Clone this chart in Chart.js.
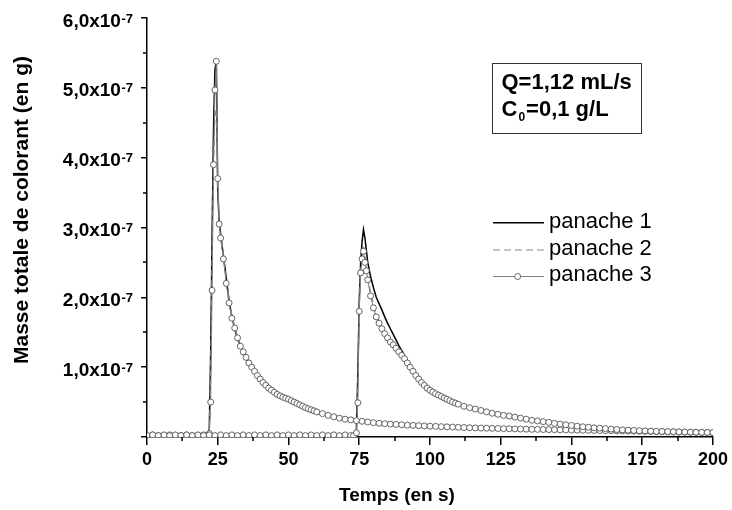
<!DOCTYPE html>
<html>
<head>
<meta charset="utf-8">
<script src="https://cdn.jsdelivr.net/npm/chart.js@4/dist/chart.umd.min.js"></script>
<style>
body{margin:0;background:#fff}
#wrap{position:relative;width:732px;height:510px}
#box{position:absolute;left:492px;top:63px;width:150px;height:71px;box-sizing:border-box;border:1.5px solid #333;font:bold 22px Arial,"Liberation Sans",sans-serif;color:#000}
#box div{position:absolute;left:8.5px;white-space:nowrap;line-height:22px}
#box sub{font-size:12px;position:relative;top:5px;vertical-align:baseline;margin:0 1px}
.leg{position:absolute;left:549px;font:22px Arial,"Liberation Sans",sans-serif;line-height:22px;color:#000;white-space:nowrap}
#legsvg{position:absolute;left:490px;top:210px}
</style>
</head>
<body>
<div id="wrap">
  <canvas id="graphe" width="732" height="510"></canvas>
  <div id="box">
    <div style="top:7px">Q=1,12 mL/s</div>
    <div style="top:33.5px">C<sub>0</sub>=0,1 g/L</div>
  </div>
  <svg id="legsvg" width="60" height="75">
    <line x1="3" y1="12.7" x2="54" y2="12.7" stroke="#000" stroke-width="1.5"/>
    <line x1="3" y1="40" x2="54" y2="40" stroke="#888" stroke-width="1.2" stroke-dasharray="7 4"/>
    <line x1="3" y1="66.5" x2="54" y2="66.5" stroke="#808080" stroke-width="1"/>
    <circle cx="27.7" cy="66.5" r="3" fill="#fff" stroke="#555" stroke-width="0.9"/>
  </svg>
  <div class="leg" style="top:210.4px">panache 1</div>
  <div class="leg" style="top:237.1px">panache 2</div>
  <div class="leg" style="top:263.1px">panache 3</div>
</div>
<script>
// temps (s) - premiere injection
const tempsA = [0,2,4,6,8,10,12,14,16,18,20,
  21,22,22.5,23,23.5,24,24.5,25,25.5,26,
  27,28,29,30,31,32,33,34,35,36,37,38,39,40,41,42,43,44,45,46,47,48,49,50,51,52,53,54,55,56,57,58,59,60,
  62,64,66,68,70,72,74,76,78,80,82,84,86,88,90,92,94,96,
  98,100,102,104,106,108,110,112,114,116,118,120,122,124,126,128,130,132,134,136,138,140,142,144,146,148,150,
  152,154,156,158,160,162,164,166,168,170,172,174,176,178,180,182,184,186,188,190,192,194,196,198,200];
// temps (s) - deuxieme injection
const tempsB = [0,2,4,6,8,10,12,14,16,18,20,22,24,26,28,30,32,34,36,38,40,42,44,46,48,50,52,54,56,58,60,62,64,66,68,70,72,
  73,74,74.5,75,75.5,76,76.5,77,77.5,
  78,79,80,81,82,83,84,85,86,87,88,89,90,91,92,93,94,95,96,97,98,99,100,101,102,103,104,105,106,107,108,109,110,
  112,114,116,118,120,122,124,126,128,130,132,134,136,138,140,142,144,146,148,150,152,154,156,158,160,
  162,164,166,168,170,172,174,176,178,180,182,184,186,188,190,192,194,196,198,200];

// masses en unites de 1e-7 g
const panache1A = [0.01,0.02,0.01,0.02,0.01,0.02,0.01,0.02,0.01,0.02,0.01,
  0.01,0.1,1.2,2.9,4.4,5.25,5.4,3.5,3.1,2.9,
  2.6,2.28,1.95,1.72,1.55,1.4,1.32,1.2,1.12,1.07,1.0,0.92,0.9,0.84,0.77,0.72,0.71,0.69,0.63,0.6,
  0.6,0.58,0.54,0.52,0.53,0.51,0.47,0.44,0.45,0.43,0.39,0.37,0.38,0.37,
  0.32,0.31,0.28,0.28,0.25,0.25,0.23,0.23,
  0.21,0.21,0.19,0.195,0.18,0.185,0.17,0.175,0.16,0.165,
  0.155,0.158,0.148,0.152,0.142,0.146,0.136,0.14,0.13,0.133,
  0.125,0.13,0.12,0.125,0.116,0.12,0.112,0.116,0.108,0.112,
  0.105,0.108,0.102,0.106,0.099,0.103,0.097,0.1,0.095,0.097,
  0.092,0.095,0.089,0.092,0.086,0.089,0.083,0.086,0.081,0.083,
  0.078,0.08,0.075,0.077,0.072,0.074,0.07,0.071,0.067,0.069,
  0.064,0.066];
const panache2A = [0.02,0.02,0.02,0.02,0.02,0.02,0.02,0.02,0.02,0.02,0.02,
  0.02,0.08,0.9,2.6,3.9,4.6,4.7,3.6,3.2,2.95,
  2.6,2.25,1.98,1.74,1.58,1.44,1.33,1.23,1.15,1.08,1.01,0.95,0.89,0.84,0.79,0.75,0.71,0.68,0.65,0.62,
  0.595,0.57,0.55,0.53,0.51,0.49,0.47,0.45,0.435,0.42,0.4,0.385,0.37,0.355,
  0.33,0.305,0.285,0.268,0.252,0.242,0.232,0.222,
  0.212,0.203,0.195,0.188,0.183,0.178,0.173,0.168,0.164,0.16,
  0.156,0.153,0.15,0.146,0.143,0.14,0.137,0.134,0.131,0.128,
  0.126,0.124,0.122,0.12,0.118,0.116,0.114,0.112,0.11,0.108,
  0.107,0.105,0.104,0.102,0.101,0.1,0.098,0.097,0.095,0.094,
  0.092,0.091,0.089,0.088,0.086,0.085,0.083,0.082,0.08,0.078,
  0.077,0.075,0.074,0.072,0.071,0.069,0.068,0.066,0.065,0.063,
  0.062,0.06];
const panache3A = [0.02,0.03,0.02,0.02,0.03,0.02,0.02,0.03,0.02,0.02,0.03,
  0.02,0.05,0.5,2.1,3.9,4.97,5.38,3.7,3.05,2.85,
  2.55,2.2,1.92,1.7,1.56,1.42,1.3,1.22,1.14,1.06,1.0,0.94,0.88,0.83,0.78,0.74,0.7,0.67,0.64,0.61,
  0.59,0.57,0.555,0.54,0.52,0.5,0.48,0.46,0.44,0.42,0.405,0.39,0.375,0.36,
  0.335,0.31,0.29,0.27,0.255,0.245,0.235,0.225,
  0.215,0.205,0.197,0.19,0.185,0.18,0.175,0.17,0.166,0.162,
  0.158,0.155,0.152,0.148,0.145,0.142,0.139,0.136,0.133,0.13,
  0.128,0.126,0.124,0.122,0.12,0.118,0.116,0.114,0.112,0.11,
  0.109,0.107,0.106,0.104,0.103,0.102,0.1,0.099,0.097,0.096,
  0.094,0.093,0.091,0.09,0.088,0.087,0.085,0.084,0.082,0.08,
  0.079,0.077,0.076,0.074,0.073,0.071,0.07,0.068,0.067,0.065,
  0.064,0.062];

const panache1B = [0.01,0.02,0.01,0.02,0.01,0.02,0.01,0.02,0.01,0.02,0.01,0.02,0.01,0.02,0.01,0.02,0.01,0.02,0.01,
  0.02,0.01,0.02,0.01,0.02,0.01,0.02,0.01,0.02,0.01,0.02,0.01,0.02,0.01,0.02,0.01,0.02,0.01,
  0.01,0.1,0.9,1.95,2.5,2.8,2.97,2.85,2.68,
  2.5,2.3,2.14,2.0,1.91,1.82,1.72,1.63,1.55,
  1.47,1.39,1.31,1.24,1.17,1.1,1.03,0.97,0.91,0.86,0.81,0.76,0.72,0.68,0.65,0.625,0.605,0.585,0.565,0.545,
  0.525,0.505,0.49,0.475,
  0.445,0.425,0.405,0.385,0.365,0.345,0.33,0.315,
  0.305,0.29,0.275,0.26,0.245,0.235,0.225,0.215,0.2,0.19,
  0.18,0.17,0.16,0.15,0.144,0.136,0.13,0.124,0.117,0.111,
  0.106,0.101,0.097,0.093,0.09,0.087,0.084,0.082,0.08,0.078,
  0.076,0.074,0.073,0.071,0.07,0.068,0.067];
const panache2B = [0.02,0.02,0.02,0.02,0.02,0.02,0.02,0.02,0.02,0.02,0.02,0.02,0.02,0.02,0.02,0.02,0.02,0.02,0.02,
  0.02,0.02,0.02,0.02,0.02,0.02,0.02,0.02,0.02,0.02,0.02,0.02,0.02,0.02,0.02,0.02,0.02,0.02,
  0.02,0.08,0.7,1.85,2.4,2.62,2.75,2.6,2.45,
  2.3,2.07,1.9,1.76,1.66,1.58,1.5,1.44,1.38,
  1.33,1.28,1.23,1.18,1.13,1.07,1.01,0.95,0.89,0.84,0.79,0.75,0.71,0.68,0.65,0.625,0.605,0.585,0.565,0.545,
  0.525,0.505,0.488,0.472,
  0.442,0.422,0.402,0.382,0.362,0.342,0.327,0.312,
  0.302,0.287,0.272,0.257,0.242,0.232,0.222,0.212,0.197,0.187,
  0.177,0.167,0.157,0.148,0.141,0.133,0.127,0.121,0.114,0.108,
  0.103,0.099,0.095,0.091,0.088,0.085,0.082,0.08,0.078,0.076,
  0.074,0.072,0.071,0.069,0.068,0.066,0.065];
const panache3B = [0.02,0.03,0.02,0.03,0.02,0.03,0.02,0.03,0.02,0.03,0.02,0.03,0.02,0.03,0.02,0.03,0.02,0.03,0.02,
  0.03,0.02,0.03,0.02,0.03,0.02,0.03,0.02,0.03,0.02,0.03,0.02,0.03,0.02,0.03,0.02,0.03,0.02,
  0.02,0.06,0.49,1.8,2.35,2.55,2.66,2.5,2.38,
  2.25,2.02,1.85,1.72,1.63,1.55,1.48,1.42,1.36,
  1.32,1.27,1.22,1.17,1.12,1.06,1.0,0.94,0.88,0.83,0.78,0.74,0.7,0.67,0.645,0.62,0.6,0.58,0.56,0.54,
  0.52,0.5,0.485,0.47,
  0.44,0.42,0.4,0.38,0.36,0.34,0.325,0.31,
  0.3,0.285,0.27,0.255,0.24,0.23,0.22,0.21,0.195,0.185,
  0.175,0.165,0.155,0.146,0.14,0.132,0.126,0.12,0.113,0.107,
  0.102,0.098,0.094,0.09,0.087,0.084,0.081,0.079,0.077,0.075,
  0.073,0.071,0.07,0.068,0.067,0.065,0.064];

// graduations
const yTickValeurs = [1,2,3,4,5,6];
const yTickLabels = ['1,0x10','2,0x10','3,0x10','4,0x10','5,0x10','6,0x10'];
const yMineures = [0.5,1.5,2.5,3.5,4.5,5.5];
const xMineures = [12.5,37.5,62.5,87.5,112.5,137.5,162.5,187.5];

const POLICE = 'Arial, "Liberation Sans", sans-serif';

function courbe(tA, vA, tB, vB) {
    const a = tA.map((t, i) => ({x: t, y: vA[i]}));
    const b = tB.map((t, i) => ({x: t, y: vB[i]}));
    return a.concat([{x: 200, y: null}], b);
}

// Habillage: graduations mineures, etiquettes Y avec exposant, titres
const habillage = {
    id: 'habillage',
    afterDraw(chart) {
        const ctx = chart.ctx;
        const x = chart.scales.x, y = chart.scales.y;
        ctx.save();
        ctx.strokeStyle = '#000';
        ctx.lineWidth = 1.5;
        ctx.beginPath();
        xMineures.forEach(v => {
            const px = Math.round(x.getPixelForValue(v));
            ctx.moveTo(px, x.top); ctx.lineTo(px, x.top + 4);
        });
        yMineures.forEach(v => {
            const py = Math.round(y.getPixelForValue(v));
            ctx.moveTo(y.right - 4, py); ctx.lineTo(y.right, py);
        });
        ctx.stroke();

        ctx.fillStyle = '#000';
        const bord = 133;
        yTickValeurs.forEach((v, i) => {
            const py = y.getPixelForValue(v);
            ctx.font = 'bold 13px ' + POLICE;
            const sw = ctx.measureText('-7').width;
            ctx.textAlign = 'left';
            ctx.textBaseline = 'alphabetic';
            ctx.fillText('-7', bord - sw, py + 4.5);
            ctx.font = 'bold 19px ' + POLICE;
            ctx.textAlign = 'right';
            ctx.fillText(yTickLabels[i], bord - sw - 0.5, py + 8.5);
        });

        ctx.font = 'bold 19px ' + POLICE;
        ctx.textAlign = 'center';
        ctx.textBaseline = 'alphabetic';
        ctx.fillText('Temps (en s)', 397, 501);

        ctx.translate(22, 210);
        ctx.rotate(-Math.PI / 2);
        ctx.font = 'bold 21px ' + POLICE;
        ctx.textBaseline = 'middle';
        ctx.fillText('Masse totale de colorant (en g)', 0, 0);
        ctx.restore();
    }
};

const grafico = document.getElementById('graphe');
const myChart = new Chart(grafico, {
    type: 'line',
    data: {
        datasets: [{
            label: 'panache 1',
            data: courbe(tempsA, panache1A, tempsB, panache1B),
            borderColor: '#000',
            borderWidth: 1.5,
            pointRadius: 0,
            order: 2
        }, {
            label: 'panache 2',
            data: courbe(tempsA, panache2A, tempsB, panache2B),
            borderColor: '#888',
            borderWidth: 1.2,
            borderDash: [6, 4],
            pointRadius: 0,
            order: 1
        }, {
            label: 'panache 3',
            data: courbe(tempsA, panache3A, tempsB, panache3B),
            borderColor: '#808080',
            borderWidth: 1,
            pointRadius: 3,
            pointBackgroundColor: '#fff',
            pointBorderColor: '#555',
            pointBorderWidth: 0.9,
            order: 0
        }]
    },
    options: {
        responsive: false,
        devicePixelRatio: 1,
        animation: false,
        spanGaps: false,
        layout: {padding: {top: 18, right: 17, left: 0, bottom: 0}},
        plugins: {legend: {display: false}, tooltip: {enabled: false}},
        elements: {line: {tension: 0}},
        scales: {
            x: {
                type: 'linear',
                min: 0,
                max: 200,
                afterFit: s => { s.height = 73; },
                border: {color: '#000', width: 1.5},
                grid: {drawOnChartArea: false, color: '#000', lineWidth: 1.5, tickLength: 8},
                ticks: {
                    stepSize: 25,
                    autoSkip: false,
                    maxRotation: 0,
                    padding: 4,
                    color: '#000',
                    font: {family: POLICE, size: 18, weight: 'bold'}
                }
            },
            y: {
                min: 0,
                max: 6,
                afterFit: s => { s.width = 147; },
                border: {color: '#000', width: 1.5},
                grid: {drawOnChartArea: false, color: '#000', lineWidth: 1.5, tickLength: 6},
                ticks: {stepSize: 1, callback: () => ''}
            }
        }
    },
    plugins: [habillage]
});
</script>
</body>
</html>
